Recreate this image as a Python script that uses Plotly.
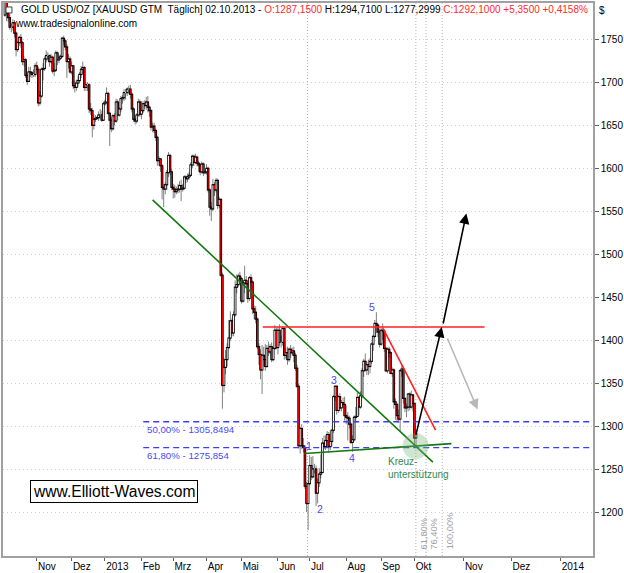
import plotly.graph_objects as go

# ---------------- data (daily bars, trading-day index 0 = 04.10.2012 ... 259 = 02.10.2013) ----------------
opens = [
 1778,1793,1780,1775,1764,1764,1769,1757,1738,1746,
 1752,1746,1724,1726,1708,1701,1712,1711,1709,1709,
 1719,1715,1676,1684,1715,1716,1727,1731,1731,1724,
 1729,1713,1714,1734,1726,1728,1730,1751,1748,1741,
 1724,1727,1712,1719,1696,1694,1699,1702,1709,1715,
 1717,1694,1697,1697,1669,1667,1650,1657,1658,1659,
 1662,1662,1656,1675,1677,1687,1664,1656,1646,1661,
 1655,1677,1662,1669,1681,1682,1688,1688,1692,1692,
 1686,1669,1657,1655,1662,1677,1663,1667,1675,1673,
 1677,1671,1667,1648,1649,1644,1636,1609,1611,1603,
 1578,1576,1581,1595,1615,1596,1578,1576,1573,1575,
 1576,1580,1576,1577,1590,1588,1590,1592,1604,1614,
 1607,1613,1606,1604,1596,1605,1595,1596,1600,1575,
 1555,1553,1581,1575,1586,1557,1564,1476,1348,1369,
 1378,1392,1403,1423,1409,1430,1462,1465,1475,1472,
 1446,1467,1470,1466,1449,1473,1468,1437,1433,1425,
 1393,1384,1366,1383,1378,1370,1391,1387,1393,1378,
 1391,1412,1392,1412,1398,1398,1414,1383,1386,1378,
 1390,1386,1388,1383,1368,1347,1278,1298,1278,1276,
 1231,1211,1234,1255,1242,1251,1251,1223,1235,1245,
 1247,1281,1277,1284,1291,1277,1283,1296,1335,1347,
 1319,1335,1322,1328,1326,1313,1311,1310,1303,1282,
 1285,1311,1312,1334,1323,1336,1365,1376,1366,1372,
 1370,1376,1396,1405,1420,1418,1410,1396,1412,1411,
 1391,1365,1390,1386,1362,1366,1329,1326,1313,1309,
 1365,1367,1333,1322,1323,1338,1323,1337,1327,1287.15]
highs = [
 1795,1796,1784,1779,1768,1773,1772,1759,1748,1754,
 1756,1748,1730,1728,1712,1718,1718,1713,1715,1722,
 1724,1718,1690,1717,1722,1730,1737,1735,1732,1733,
 1731,1722,1737,1736,1732,1732,1753,1754,1750,1744,
 1733,1730,1724,1720,1702,1703,1707,1712,1719,1724,
 1719,1700,1700,1699,1676,1670,1663,1662,1661,1666,
 1669,1667,1677,1680,1694,1689,1665,1660,1663,1664,
 1681,1680,1671,1684,1685,1692,1692,1694,1696,1697,
 1688,1671,1661,1664,1681,1680,1678,1678,1679,1683,
 1684,1673,1669,1653,1653,1646,1638,1614,1612,1605,
 1582,1584,1598,1619,1617,1599,1582,1581,1579,1582,
 1585,1587,1582,1592,1592,1594,1596,1607,1616,1616,
 1617,1615,1609,1606,1608,1607,1598,1605,1602,1577,
 1561,1588,1584,1589,1588,1567,1565,1479,1380,1389,
 1397,1424,1434,1426,1434,1470,1477,1478,1480,1474,
 1470,1487,1475,1470,1475,1477,1470,1441,1440,1427,
 1397,1390,1395,1393,1396,1395,1399,1396,1398,1393,
 1418,1415,1416,1419,1406,1417,1416,1392,1393,1392,
 1395,1392,1393,1386,1372,1350,1300,1303,1287,1279,
 1236,1237,1267,1265,1266,1257,1255,1240,1252,1268,
 1287,1290,1290,1295,1294,1296,1298,1337,1348,1348,
 1337,1339,1331,1334,1335,1325,1317,1313,1305,1290,
 1313,1323,1340,1336,1341,1368,1379,1385,1376,1378,
 1380,1398,1406,1424,1433,1420,1413,1415,1420,1413,
 1393,1392,1393,1388,1369,1368,1333,1328,1320,1367,
 1371,1370,1334,1327,1339,1340,1342,1338,1328,1294.71]
lows = [
 1776,1771,1770,1761,1758,1760,1752,1730,1735,1742,
 1740,1720,1719,1705,1697,1700,1706,1705,1706,1706,
 1710,1672,1673,1682,1702,1713,1723,1725,1718,1722,
 1710,1707,1712,1720,1722,1726,1728,1743,1737,1705,
 1716,1710,1709,1692,1688,1690,1694,1699,1705,1709,
 1690,1690,1690,1664,1662,1636,1645,1654,1656,1655,
 1657,1654,1655,1673,1675,1662,1626,1642,1644,1650,
 1653,1656,1660,1665,1675,1678,1680,1684,1686,1681,
 1665,1654,1651,1652,1660,1660,1657,1664,1669,1668,
 1665,1660,1644,1642,1641,1632,1603,1603,1596,1564,
 1555,1570,1575,1590,1592,1575,1565,1566,1570,1571,
 1572,1562,1573,1575,1583,1584,1587,1590,1600,1603,
 1605,1602,1596,1592,1594,1591,1593,1593,1572,1545,
 1539,1550,1568,1572,1553,1554,1474,1321,1340,1361,
 1370,1390,1400,1405,1405,1428,1455,1462,1465,1443,
 1444,1455,1464,1444,1446,1460,1431,1425,1420,1390,
 1372,1355,1338,1370,1365,1369,1382,1384,1375,1376,
 1389,1390,1384,1394,1392,1394,1378,1379,1372,1375,
 1380,1383,1375,1365,1345,1275,1269,1274,1270,1228,
 1201,1180,1232,1238,1240,1246,1208,1211,1230,1240,
 1246,1274,1273,1276,1270,1273,1277,1293,1330,1314,
 1316,1318,1318,1322,1307,1303,1284,1298,1280,1271,
 1283,1305,1311,1313,1321,1333,1358,1364,1360,1360,
 1362,1373,1388,1403,1409,1404,1392,1394,1401,1387,
 1364,1362,1380,1361,1358,1321,1308,1305,1305,1295,
 1358,1327,1317,1311,1318,1319,1321,1318,1277,1277.30]
closes = [
 1793,1780,1775,1764,1764,1769,1757,1738,1746,1752,
 1746,1724,1726,1708,1701,1712,1711,1709,1709,1719,
 1715,1676,1684,1715,1716,1727,1731,1731,1724,1729,
 1713,1714,1734,1726,1728,1730,1751,1748,1741,1724,
 1727,1712,1719,1696,1694,1699,1702,1709,1715,1717,
 1694,1697,1697,1669,1667,1650,1657,1658,1659,1662,
 1662,1656,1675,1677,1687,1664,1656,1646,1661,1655,
 1677,1662,1669,1681,1682,1688,1688,1692,1692,1686,
 1669,1657,1655,1662,1677,1663,1667,1675,1673,1677,
 1671,1667,1648,1649,1644,1636,1609,1611,1603,1578,
 1576,1581,1595,1615,1596,1578,1576,1573,1575,1576,
 1580,1576,1577,1590,1588,1590,1592,1604,1614,1607,
 1613,1606,1604,1596,1605,1595,1596,1600,1575,1555,
 1553,1581,1575,1586,1557,1564,1476,1348,1369,1378,
 1392,1403,1423,1409,1430,1462,1465,1475,1472,1446,
 1467,1470,1466,1449,1473,1468,1437,1433,1425,1393,
 1384,1366,1383,1378,1370,1391,1387,1393,1378,1391,
 1412,1392,1412,1398,1398,1414,1383,1386,1378,1390,
 1386,1388,1383,1368,1347,1278,1298,1278,1276,1231,
 1211,1234,1255,1242,1251,1251,1223,1235,1245,1247,
 1281,1277,1284,1291,1277,1283,1296,1335,1347,1319,
 1335,1322,1328,1326,1313,1311,1310,1303,1282,1285,
 1311,1312,1334,1323,1336,1365,1376,1366,1372,1370,
 1376,1396,1405,1420,1418,1410,1396,1412,1411,1391,
 1365,1390,1386,1362,1366,1329,1326,1313,1309,1365,
 1367,1333,1322,1323,1338,1323,1337,1327,1287,1292.10]

# month ticks (bar index; after Okt 2013 the future axis runs in calendar days)
tick_pos = [20, 42, 63, 86, 106, 127, 149, 172, 192, 215, 237, 258, 289, 319, 350]
tick_text = ['Nov', 'Dez', '2013', 'Feb', 'Mrz', 'Apr', 'Mai', 'Jun', 'Jul', 'Aug', 'Sep', 'Okt', 'Nov', 'Dez', '2014']
price_ticks = [1200, 1250, 1300, 1350, 1400, 1450, 1500, 1550, 1600, 1650, 1700, 1750]

# drawing objects (bar index, price)
green_down_x, green_down_y = [93.0, 269.6], [1563.5, 1258.9]
green_up_x, green_up_y = [188.7, 281.3], [1269.0, 1280.5]
red_flat_x, red_flat_y = [162.4, 302.2], [1415.8, 1415.8]
red_down_x, red_down_y = [238.2, 271.3], [1414.3, 1296.2]
fib_levels = [1305.8494, 1275.854]
fib_labels = ['50,00% - 1305,8494', '61,80% - 1275,854']
fib_start = 87.1
time_lines = [190.6, 258.9, 265.3, 275.5]
time_labels = ['61,80%', '76,40%', '100,00%']
wave_labels = ['1', '2', '3', '4', '5']
wave_x = [191.8, 198.6, 207.5, 218.4, 231.5]
wave_y = [1277.7, 1204.7, 1353.9, 1264.3, 1439.3]
arrows_black = [((258.7, 1288.9), (275.2, 1415.8)), ((275.9, 1418.2), (290.7, 1547.7))]
arrow_gray = ((278.4, 1404.3), (297.8, 1320.1))

X_RANGE = [-1.25, 370.5]
Y_RANGE = [1150, 1792]

BLUE = '#3c3cff'
GREEN = '#13780f'
RED = '#ff2020'
FONT = 'Arial, Liberation Sans, sans-serif'

fig = go.Figure()

idx = list(range(len(closes)))
body_hi = [max(o, c) for o, c in zip(opens, closes)]
body_lo = [min(o, c) for o, c in zip(opens, closes)]


def segs(xs, y0s, y1s):
    sx, sy = [], []
    for x, a, b in zip(xs, y0s, y1s):
        sx += [x, x, None]
        sy += [a, b, None]
    return sx, sy


# wicks (gray)
wx, wy = segs(idx, lows, highs)
fig.add_trace(go.Scatter(x=wx, y=wy, mode='lines', line=dict(color='#808080', width=1),
                         hoverinfo='skip', showlegend=False))
# body outlines (black)
bx, by = segs(idx, [v - 0.7 for v in body_lo], [v + 0.7 for v in body_hi])
fig.add_trace(go.Scatter(x=bx, y=by, mode='lines', line=dict(color='#000000', width=2.6),
                         hoverinfo='skip', showlegend=False))
# body fills: red for falling, white for rising bars
dn = [i for i in idx if closes[i] < opens[i]]
up = [i for i in idx if closes[i] >= opens[i]]
for sel, col in [(dn, '#ff0000'), (up, '#ffffff')]:
    fx, fy = segs(sel, [body_lo[i] + 0.6 for i in sel], [body_hi[i] - 0.6 for i in sel])
    fig.add_trace(go.Scatter(x=fx, y=fy, mode='lines', line=dict(color=col, width=1),
                             hoverinfo='skip', showlegend=False))

# fib price levels
for lvl in fib_levels:
    fig.add_trace(go.Scatter(x=[fib_start, X_RANGE[1]], y=[lvl, lvl], mode='lines',
                             line=dict(color=BLUE, width=1.3, dash='6px,4px'),
                             hoverinfo='skip', showlegend=False))

# trend lines
for xs, ys, col in [(green_down_x, green_down_y, GREEN), (green_up_x, green_up_y, GREEN),
                    (red_flat_x, red_flat_y, RED), (red_down_x, red_down_y, RED)]:
    fig.add_trace(go.Scatter(x=xs, y=ys, mode='lines', line=dict(color=col, width=1.6),
                             hoverinfo='skip', showlegend=False))

# time lines
for xv in time_lines:
    fig.add_shape(type='line', x0=xv, x1=xv, y0=Y_RANGE[0], y1=Y_RANGE[1], xref='x', yref='y',
                  line=dict(color='#b4b4b4', width=1, dash='1px,2px'), layer='below')

# support circle
fig.add_shape(type='circle', xref='x', yref='y', x0=250.5, x1=266.9, y0=1262.7, y1=1292.7,
              fillcolor='rgba(120,180,120,0.35)', line=dict(width=0))

ann = []
for lvl, txt in zip(fib_levels, fib_labels):
    ann.append(dict(x=88, y=lvl - 9.5, xref='x', yref='y', text=txt, showarrow=False,
                    xanchor='left', yanchor='middle', font=dict(color='#4a4af5', size=9.7, family=FONT)))
for t, xv, yv in zip(wave_labels, wave_x, wave_y):
    ann.append(dict(x=xv, y=yv, xref='x', yref='y', text=t, showarrow=False,
                    font=dict(color='#4a4af5', size=10.5, family=FONT)))
for t, xv in zip(time_labels, time_lines[1:]):
    ann.append(dict(x=xv + 0.6, y=1155, xref='x', yref='y', text=t, showarrow=False, textangle=-90,
                    xanchor='left', yanchor='bottom', font=dict(color='#a0a0a0', size=9.3, family=FONT)))
for (tail, head) in arrows_black:
    ann.append(dict(x=head[0], y=head[1], ax=tail[0], ay=tail[1], xref='x', yref='y',
                    axref='x', ayref='y', showarrow=True, arrowhead=2, arrowsize=1.3,
                    arrowwidth=1.6, arrowcolor='black', text=''))
ann.append(dict(x=arrow_gray[1][0], y=arrow_gray[1][1], ax=arrow_gray[0][0], ay=arrow_gray[0][1],
                xref='x', yref='y', axref='x', ayref='y', showarrow=True, arrowhead=2, arrowsize=1.3,
                arrowwidth=1.6, arrowcolor='#b8b8b8', text=''))
ann.append(dict(x=240.3, y=1268, xref='x', yref='y', text='Kreuz-<br>unterstützung', showarrow=False,
                xanchor='left', yanchor='top', align='left', font=dict(color='#2f8a55', size=10, family=FONT)))
ann.append(dict(x=69, y=1225, xref='x', yref='y', text='www.Elliott-Waves.com', showarrow=False,
                font=dict(color='black', size=15.6, family=FONT), bgcolor='white', bordercolor='black',
                borderwidth=1, borderpad=2))
title = ("GOLD USD/OZ [XAUUSD GTM  Täglich] 02.10.2013 - "
         "<span style='color:#ff2a2a'>O:1287,1500</span> H:1294,7100 L:1277,2999 "
         "<span style='color:#ff2a2a'>C:1292,1000 +5,3500 +0,4158%</span>")
ann.append(dict(x=(18 - 2) / 593, y=1 - (7.5 - 1) / 556, xref='paper', yref='paper', text=title,
                showarrow=False, xanchor='left', yanchor='middle', font=dict(color='black', size=10, family=FONT)))
ann.append(dict(x=(12 - 2) / 593, y=1 - (21.5 - 1) / 556, xref='paper', yref='paper',
                text='www.tradesignalonline.com', showarrow=False, xanchor='left', yanchor='middle',
                font=dict(color='black', size=10, family=FONT)))
ann.append(dict(x=(599 - 2) / 593, y=1 - (9 - 1) / 556, xref='paper', yref='paper', text='$',
                showarrow=False, xanchor='left', yanchor='middle', font=dict(color='black', size=10, family=FONT)))

# small title icon
fig.add_shape(type='rect', xref='paper', yref='paper', x0=(5 - 2) / 593, x1=(11 - 2) / 593,
              y0=1 - (11 - 1) / 556, y1=1 - (5 - 1) / 556, line=dict(color='#404040', width=1),
              fillcolor='white')

fig.update_layout(
    width=624, height=573,
    margin=dict(l=2, r=29, t=1, b=16),
    paper_bgcolor='white', plot_bgcolor='white',
    annotations=ann, showlegend=False,
    font=dict(family=FONT, size=10, color='black'),
    xaxis=dict(range=X_RANGE, tickvals=tick_pos, ticktext=tick_text, ticks='outside', ticklen=3,
               tickcolor='#606060', ticklabelposition='outside right', showgrid=False, zeroline=False,
               showline=True, linecolor='#a0a0a0', linewidth=1.5, mirror=True,
               tickfont=dict(size=10, family=FONT, color='black'), fixedrange=True),
    yaxis=dict(range=Y_RANGE, side='right', tickvals=price_ticks, ticks='outside', ticklen=4,
               tickcolor='#606060', showgrid=True, gridcolor='#d0d0d0', griddash='1px,3px', zeroline=False,
               showline=True, linecolor='#a0a0a0', linewidth=1.5, mirror=True,
               tickfont=dict(size=10, family=FONT, color='black'), fixedrange=True),
)

fig.write_html('out.html', config={'displayModeBar': False},
               post_script="document.body.style.margin='0';document.body.style.overflow='hidden';")
